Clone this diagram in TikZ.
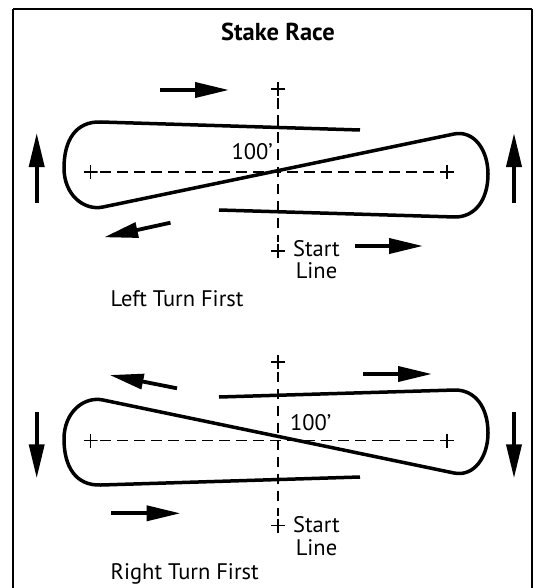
\documentclass[tikz,border=0pt]{standalone}
\usepackage{fontspec}
\setmainfont{PT Sans}
\usetikzlibrary{arrows.meta}
\begin{document}
\begin{tikzpicture}[x=1pt,y=-1pt,
  track/.style={line width=3.5pt, line join=round},
  guide/.style={line width=1.6pt, dash pattern=on 10.5pt off 6.5pt, shorten >=2.5pt, shorten <=2.5pt},
  plus/.style={minimum size=14pt, inner sep=0pt, outer sep=0pt,
    path picture={\draw[line width=1.7pt]
      (path picture bounding box.north) -- (path picture bounding box.south)
      (path picture bounding box.west) -- (path picture bounding box.east);}},
  lbl/.style={inner sep=0pt, font=\fontsize{22.5}{23}\selectfont},
  dirarrow/.style={line width=3.8pt, -{Triangle[length=34pt,width=15pt]}},
  frame/.style={line width=2pt}]
\useasboundingbox (0,0) rectangle (536,588);
\draw[frame] (13,9) -- (13,600) (531.5,9) -- (531.5,600) (13,9) -- (531.5,9);
\node[inner sep=0pt, anchor=base, font=\fontsize{24.5}{25}\selectfont\bfseries] (title) at (278,40.5) {Stake Race};

% ---------- Left Turn First ----------
\node[plus] (t1) at (278,89) {};
\node[plus] (b1) at (278,251) {};
\node[plus] (l1) at (90.5,172) {};
\node[plus] (r1) at (447,172) {};
\draw[guide] (t1) -- (b1);
\draw[guide] (l1) -- (r1);
\draw[track] (360,130) -- (101,122) .. controls (76,121) and (64,140) .. (64,168)
  .. controls (64,195) and (84,211) .. (103,207) -- (454,134)
  .. controls (474,130) and (488,150) .. (488,174)
  .. controls (488,200) and (475,217) .. (455,217) -- (219,210);
\node[lbl, anchor=base east] (d1) at (273,160) {100’};
\node[lbl, anchor=base] (s1) at (316.5,256) {Start};
\node[lbl, anchor=base] (n1) at (316.5,278.5) {Line};
\node[lbl, anchor=base west] (c1) at (110.5,306.5) {Left Turn First};
\coordinate (a1s) at (160,90);   \coordinate (a1e) at (229,90);
\coordinate (a2s) at (170.5,222.7); \coordinate (a2e) at (104,237.3);
\coordinate (a3s) at (354.5,246); \coordinate (a3e) at (423,246);
\coordinate (a4s) at (36.7,203); \coordinate (a4e) at (36.7,133);
\coordinate (a5s) at (514,203); \coordinate (a5e) at (514,133);
\draw[dirarrow] (a1s) -- (a1e);
\draw[dirarrow] (a2s) -- (a2e);
\draw[dirarrow] (a3s) -- (a3e);
\draw[dirarrow] (a4s) -- (a4e);
\draw[dirarrow] (a5s) -- (a5e);

% ---------- Right Turn First ----------
\node[plus] (t2) at (278,362) {};
\node[plus] (b2) at (278,525.5) {};
\node[plus] (l2) at (90.5,440.5) {};
\node[plus] (r2) at (447,440.5) {};
\draw[guide] (t2) -- (b2);
\draw[guide] (l2) -- (r2);
\draw[track] (360,477) -- (101,485) .. controls (76,486) and (64,467) .. (64,439)
  .. controls (64,412) and (84,396) .. (103,400) -- (454,473)
  .. controls (474,477) and (488,457) .. (488,433)
  .. controls (488,407) and (475,390) .. (455,390) -- (219,397);
\node[lbl, anchor=base west] (d2) at (290,430.5) {100’};
\node[lbl, anchor=base] (s2) at (316.5,532.3) {Start};
\node[lbl, anchor=base] (n2) at (316.5,555.5) {Line};
\node[lbl, anchor=base west] (c2) at (110.5,579) {Right Turn First};
\coordinate (b1s) at (177,388.3); \coordinate (b1e) at (109.6,375);
\coordinate (b2s) at (363,374);   \coordinate (b2e) at (432,374);
\coordinate (b3s) at (111,513.3); \coordinate (b3e) at (180.5,513.3);
\coordinate (b4s) at (36.7,411.7); \coordinate (b4e) at (36.7,478.3);
\coordinate (b5s) at (514,411.7); \coordinate (b5e) at (514,478.3);
\draw[dirarrow] (b1s) -- (b1e);
\draw[dirarrow] (b2s) -- (b2e);
\draw[dirarrow] (b3s) -- (b3e);
\draw[dirarrow] (b4s) -- (b4e);
\draw[dirarrow] (b5s) -- (b5e);
\end{tikzpicture}
\end{document}
